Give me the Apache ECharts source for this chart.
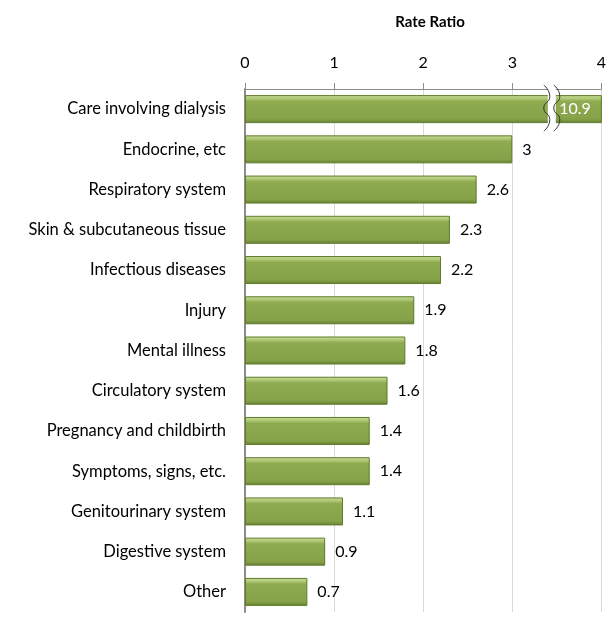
<!DOCTYPE html>
<html>
<head>
<meta charset="utf-8">
<script src="https://cdn.jsdelivr.net/npm/echarts@6/dist/echarts.min.js"></script>
<style>
  html, body { margin: 0; padding: 0; background: #fff; }
  #chart { width: 609px; height: 637px; }
</style>
</head>
<body>
<div id="chart"></div>
<script>
// categories, top to bottom
const categories = [
  'Care involving dialysis', 'Endocrine, etc', 'Respiratory system',
  'Skin & subcutaneous tissue', 'Infectious diseases', 'Injury',
  'Mental illness', 'Circulatory system', 'Pregnancy and childbirth',
  'Symptoms, signs, etc.', 'Genitourinary system', 'Digestive system', 'Other'
]
const rateRatios = [10.9, 3, 2.6, 2.3, 2.2, 1.9, 1.8, 1.6, 1.4, 1.4, 1.1, 0.9, 0.7]
const xTicks = [0, 1, 2, 3, 4]

const axisMax = xTicks[xTicks.length - 1]
const fontFam = 'Lato'

const chart = echarts.init(document.getElementById('chart'))

// bevelled green fill
const barFill = new echarts.graphic.LinearGradient(0, 0, 0, 1, [
  {offset: 0, color: '#c9dc98'},
  {offset: 0.12, color: '#b0c977'},
  {offset: 0.22, color: '#8fab50'},
  {offset: 0.85, color: '#86a249'},
  {offset: 1, color: '#66802f'}
])

const option = {
  animation: false,
  title: {
    text: 'Rate Ratio',
    left: 425,
    top: 10,
    textAlign: 'center',
    textStyle: {fontFamily: fontFam, fontSize: 15, fontWeight: 'bold', color: '#000'}
  },
  grid: {left: 245, right: 5, top: 89, bottom: 25, containLabel: false},
  xAxis: {
    type: 'value',
    position: 'top',
    min: 0,
    max: axisMax,
    interval: 1,
    axisLine: {show: true, lineStyle: {color: '#8c8c8c'}},
    axisTick: {show: true, length: 6, lineStyle: {color: '#8c8c8c'}},
    axisLabel: {
      margin: 18,
      fontFamily: fontFam,
      fontSize: 16,
      color: '#000',
      formatter: v => xTicks.includes(v) ? String(v) : ''
    },
    splitLine: {show: true, lineStyle: {color: '#d9d9d9'}}
  },
  yAxis: {
    type: 'category',
    inverse: true,
    data: categories,
    axisLine: {show: true, lineStyle: {color: '#8c8c8c', width: 2}},
    axisTick: {show: false},
    axisLabel: {margin: 19, fontFamily: fontFam, fontSize: 16.5, color: '#000'}
  },
  series: [{
    type: 'bar',
    data: rateRatios.map(v => ({
      value: v,
      label: v > axisMax ? {
        position: 'insideRight',
        offset: [-1, 0],
        color: '#fff'
      } : undefined
    })),
    barWidth: 28,
    itemStyle: {color: barFill, borderColor: '#5f7a2b', borderWidth: 1},
    label: {
      show: true,
      position: 'right',
      distance: 10,
      fontFamily: fontFam,
      fontSize: 16,
      color: '#000'
    }
  }]
}

chart.setOption(option)

// axis break marker on the clipped dialysis bar
const brkVal = 3.41
const p = chart.convertToPixel({gridIndex: 0}, [brkVal, categories[0]])
const yTop = 85, yBot = p[1] + 22
function wave(dx) {
  const pts = []
  const n = 4
  for (let i = 0; i <= n; i++) {
    const y = yTop + (yBot - yTop) * i / n
    pts.push([p[0] + dx + (i % 2 ? 3 : -3), y])
  }
  return pts
}
chart.setOption({
  graphic: [
    {type: 'rect', shape: {x: p[0] - 1, y: yTop + 2, width: 8, height: yBot - yTop - 4},
      style: {fill: '#fff'}, z: 100},
    {type: 'polyline', shape: {points: wave(-2), smooth: 0.6},
      style: {stroke: '#333', lineWidth: 1, fill: null}, z: 101},
    {type: 'polyline', shape: {points: wave(8), smooth: 0.6},
      style: {stroke: '#333', lineWidth: 1, fill: null}, z: 101}
  ]
})

window.onresize = chart.resize
</script>
</body>
</html>
